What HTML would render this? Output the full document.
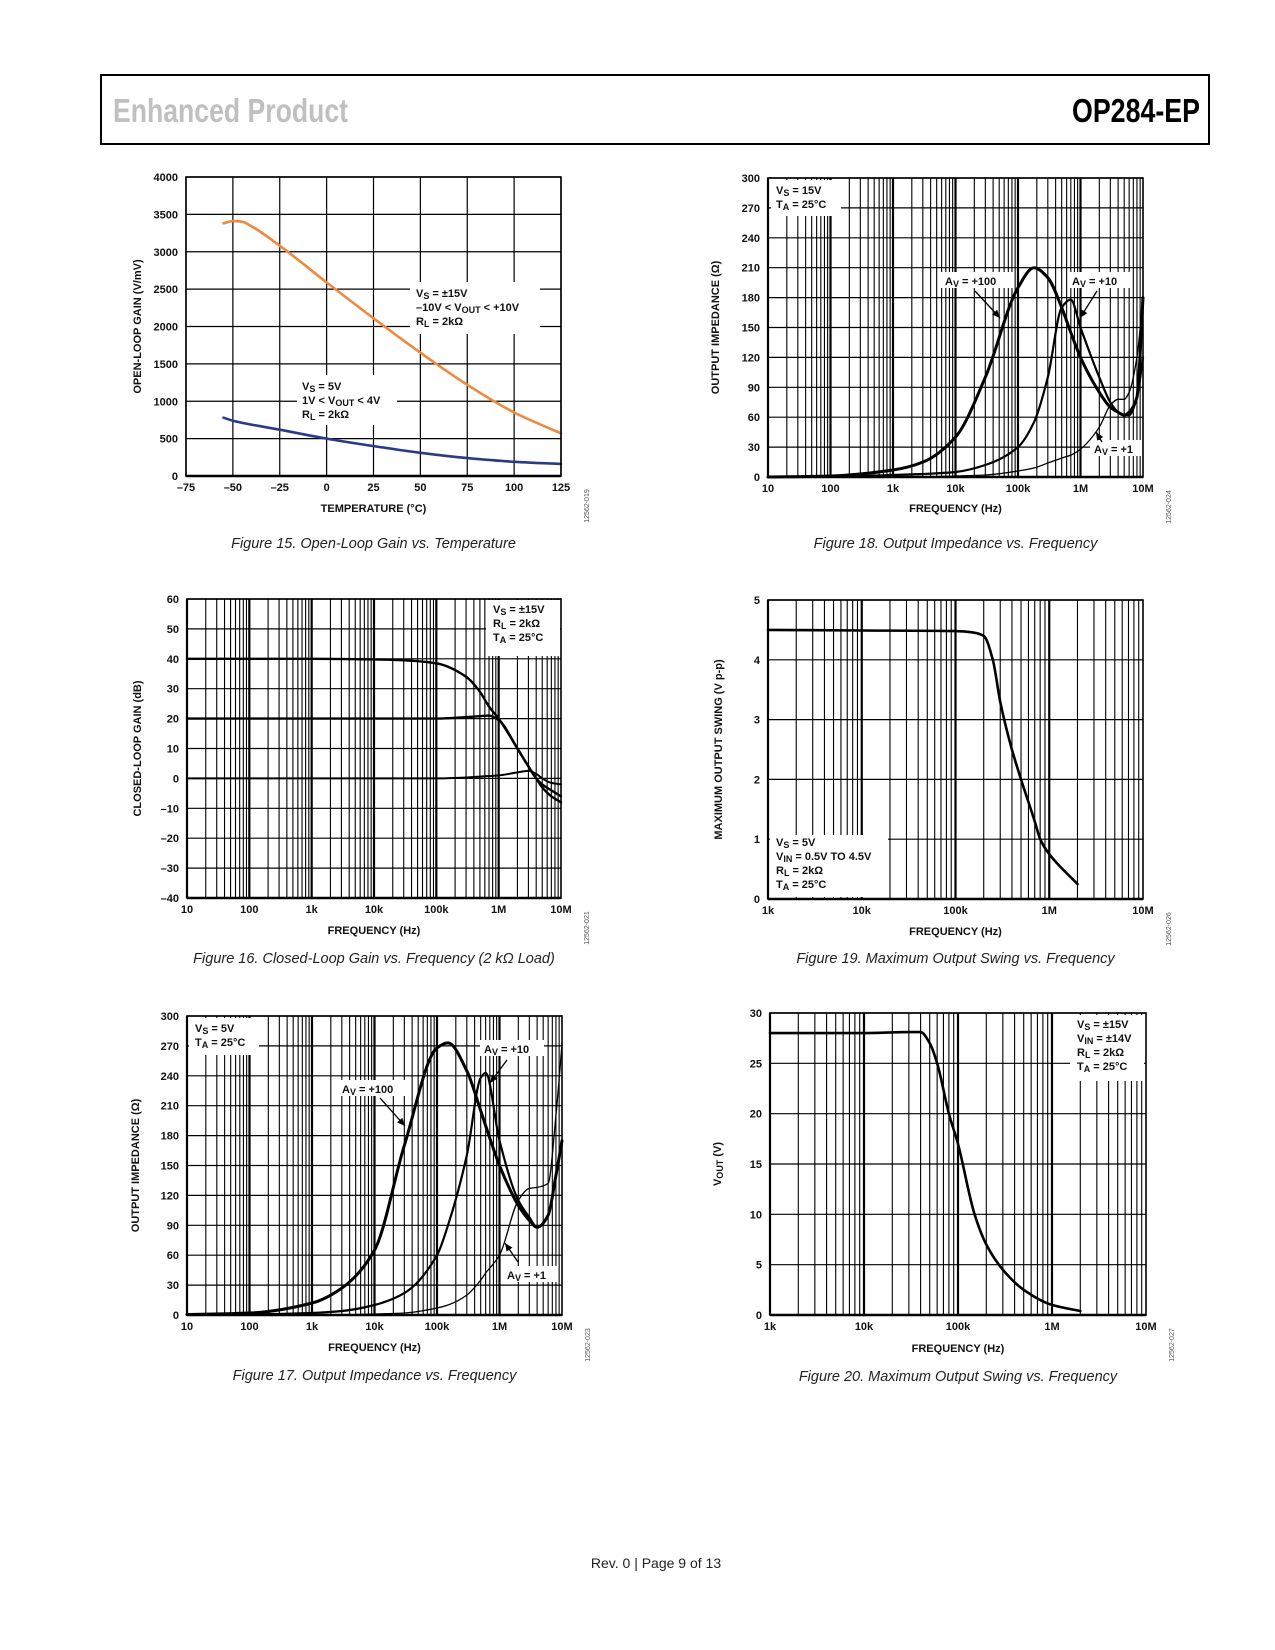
<!DOCTYPE html>
<html><head><meta charset="utf-8"><style>
body{margin:0;background:#fff;}
svg{display:block;font-family:"Liberation Sans",sans-serif;}
.t{font-size:11px;font-weight:bold;fill:#111;}
.cap{font-size:14.5px;font-style:italic;fill:#222;}
</style></head><body>
<svg id="pg" width="1275" height="1650" viewBox="0 0 1275 1650">
<rect x="101" y="75" width="1108" height="69" fill="none" stroke="#000" stroke-width="2"/>
<text x="113" y="122" textLength="235" lengthAdjust="spacingAndGlyphs" style="font-size:33px;font-weight:bold;fill:#c0c0c0">Enhanced Product</text>
<text x="1072" y="122" textLength="128" lengthAdjust="spacingAndGlyphs" style="font-size:33px;font-weight:bold;fill:#000">OP284-EP</text>
<text x="656" y="1568" text-anchor="middle" style="font-size:14px;fill:#222">Rev. 0 | Page 9 of 13</text>
</svg>
<script>
// ---- Fig 15 data ----
const f15Temp=[-55,-50,-45,-40,-25,0,25,50,75,100,125];
const f15Hi=[3380,3410,3400,3340,3080,2590,2110,1650,1220,850,570];
const f15LoTemp=[-55,-50,-25,0,25,50,75,100,125];
const f15Lo=[780,740,620,500,400,310,240,190,160];
const f15XTicks=[-75,-50,-25,0,25,50,75,100,125];
const f15XLabels=["–75","–50","–25","0","25","50","75","100","125"];
const f15YTicks=[0,500,1000,1500,2000,2500,3000,3500,4000];
// ---- Fig 16 data ----
const f16Freq=[10,1e3,1e4,3e4,1e5,3e5,5e5,7e5,1e6,2e6,3e6,4e6,5e6,7e6,1e7];
const f16G40=[40,40,39.8,39.5,38.5,34,29,24,20,10,4,0,-3,-6,-8];
const f16G20=[20,20,20,20,20,20.5,20.8,21,19.5,10,4,0,-2,-4,-6];
const f16G0=[0,0,0,0,0,0.3,0.6,0.8,1,2,2.5,1.5,0,-1.5,-2];
const f16YTicks=[-40,-30,-20,-10,0,10,20,30,40,50,60];
const f16YLabels=["–40","–30","–20","–10","0","10","20","30","40","50","60"];
const logLabels6=["10","100","1k","10k","100k","1M","10M"];
const logTicks6=[10,100,1e3,1e4,1e5,1e6,1e7];
// ---- Fig 17 data ----
const f17Freq=[10,100,1e3,3e3,1e4,3e4,1e5,1.5e5,3e5,5e5,6e5,1e6,2e6,3e6,4e6,6e6,8e6,1e7];
const f17A100=[0.5,2,12,27,65,170,268,273,245,205,190,150,110,95,88,100,140,175];
const f17A10=[0,0.5,2,4,10,22,60,90,160,238,243,175,115,98,88,100,140,175];
const f17A1=[0,0,0,0,1,2,7,10,20,35,42,60,115,127,128,132,200,272];
const zTicks=[0,30,60,90,120,150,180,210,240,270,300];
// ---- Fig 18 data ----
const f18Freq=[10,100,1e3,3e3,1e4,3e4,1e5,1.8e5,3e5,5e5,7e5,1e6,2e6,3e6,4e6,5e6,6e6,8e6,1e7];
const f18A100=[0,1,7,15,40,100,190,210,200,170,145,120,85,70,65,62,65,80,180];
const f18A10=[0,0.5,2,3,5,12,30,55,100,170,178,150,100,75,65,62,62,80,120];
const f18A1=[0,0,0,0,1,2,6,9,14,19,22,28,50,72,78,78,85,120,180];
// ---- Fig 19 data ----
const f19Freq=[1e3,1e4,1e5,1.5e5,2e5,2.5e5,3e5,4e5,5e5,7e5,8e5,1e6,2e6];
const f19V=[4.5,4.49,4.48,4.46,4.4,4.0,3.3,2.5,2.0,1.3,1.0,0.75,0.25];
const f19YTicks=[0,1,2,3,4,5];
const logTicks4=[1e3,1e4,1e5,1e6,1e7];
const logLabels4=["1k","10k","100k","1M","10M"];
// ---- Fig 20 data ----
const f20Freq=[1e3,1e4,3e4,4e4,5e4,6e4,8e4,1e5,1.5e5,2e5,3e5,5e5,1e6,2e6];
const f20V=[28,28,28.1,28.1,27,25,20,17,10,7,4.5,2.5,1,0.4];
const f20YTicks=[0,5,10,15,20,25,30];

const NS="http://www.w3.org/2000/svg";
const pg=document.getElementById('pg');
function mk(tag,attrs,parent){const e=document.createElementNS(NS,tag);for(const k in attrs)e.setAttribute(k,attrs[k]);(parent||pg).appendChild(e);return e;}
function axis(c){
  if(c.log){const a=Math.log10(c.xmin),b=Math.log10(c.xmax);c.x=v=>c.L+(Math.log10(v)-a)/(b-a)*(c.R-c.L);}
  else c.x=v=>c.L+(v-c.xmin)/(c.xmax-c.xmin)*(c.R-c.L);
  c.y=v=>c.B-(v-c.ymin)/(c.ymax-c.ymin)*(c.B-c.T);
  return c;
}
function drawGrid(c,g){
  if(c.log){
    for(let d=c.xmin;d<c.xmax;d*=10){for(let m=1;m<10;m++){const v=d*m;const X=c.x(v);
      const ln=mk('line',{x1:X,x2:X,y1:c.T,y2:c.B,stroke:'#000','stroke-width':m==1?2.2:1.1},g);
      }}
  } else {
    c.xt.forEach(v=>{const X=c.x(v);const ln=mk('line',{x1:X,x2:X,y1:c.T,y2:c.B,stroke:'#000','stroke-width':1.2},g);
      });
  }
  c.yt.forEach(v=>{const Y=c.y(v);const ln=mk('line',{x1:c.L,x2:c.R,y1:Y,y2:Y,stroke:'#000','stroke-width':1.2},g);
    });
}
function drawFrame(c,g){
  const r=mk('rect',{x:c.L,y:c.T,width:c.R-c.L,height:c.B-c.T,fill:'none',stroke:'#000','stroke-width':1.6},g);
  
  mk('line',{x1:c.L,x2:c.R,y1:c.B,y2:c.B,stroke:'#000','stroke-width':2.5},g);
  c.xt.forEach((v,i)=>{const t=mk('text',{x:c.x(v),y:c.B+15,'text-anchor':'middle',class:'t'},g);t.textContent=c.xl[i];
    });
  c.yt.forEach((v,i)=>{const t=mk('text',{x:c.L-8,y:c.y(v)+4,'text-anchor':'end',class:'t'},g);t.textContent=c.yl?c.yl[i]:String(v);
    });
  const xt=mk('text',{x:(c.L+c.R)/2,y:c.xtY,'text-anchor':'middle',class:'t'},g);xt.textContent=c.xtitle;
  
  const yt=mk('text',{x:0,y:0,'text-anchor':'middle',class:'t',transform:`translate(${c.ytX},${(c.T+c.B)/2}) rotate(-90)`},g);
  richText(yt,c.ytitle);
  
  const cp=mk('text',{x:(c.L+c.R)/2,y:c.capY,'text-anchor':'middle',class:'cap'},g);cp.textContent=c.cap;
  
  const id=mk('text',{x:0,y:0,'text-anchor':'middle',transform:`translate(${c.R+28},${c.B+30}) rotate(-90)`,style:'font-size:7px;fill:#555'},g);id.textContent=c.id;
  
}
function richText(t,s){
  const parts=s.split(/(\{[^}]*\})/);
  parts.forEach(p=>{if(!p)return;const sp=document.createElementNS(NS,'tspan');
    if(p[0]=='{'){sp.textContent=p.slice(1,-1);sp.setAttribute('baseline-shift','-25%');sp.setAttribute('font-size','9px');}
    else sp.textContent=p; t.appendChild(sp);});
}
function legend(g,bx,by,bw,bh,tx,ty,lines,name){
  const r=mk('rect',{x:bx,y:by,width:bw,height:bh,fill:'#fff'},g);
  
  lines.forEach((s,i)=>{const t=mk('text',{x:tx,y:ty+i*14,class:'t'},g);richText(t,s);
    });
}
function arrow(g,x1,y1,x2,y2){
  const l=mk('line',{x1,y1,x2,y2,stroke:'#000','stroke-width':1.3},g);
  
  const a=Math.atan2(y2-y1,x2-x1),s=8,w=3.5;
  const p=[[x2,y2],[x2-s*Math.cos(a)+w*Math.sin(a),y2-s*Math.sin(a)-w*Math.cos(a)],[x2-s*Math.cos(a)-w*Math.sin(a),y2-s*Math.sin(a)+w*Math.cos(a)]];
  const h=mk('polygon',{points:p.map(q=>q.join(',')).join(' '),fill:'#000'},g);
  
}
// monotone cubic (Fritsch-Carlson) in pixel space, densely sampled
function curve(c,g,xs,ys,stroke,w,name){
  const X=xs.map(v=>c.x(v)),Y=ys.map(v=>c.y(v)),n=X.length;
  const dl=[],m=[];
  for(let i=0;i<n-1;i++)dl.push((Y[i+1]-Y[i])/(X[i+1]-X[i]));
  m[0]=dl[0];m[n-1]=dl[n-2];
  for(let i=1;i<n-1;i++){ if(dl[i-1]*dl[i]<=0)m[i]=0; else {const w1=2*(X[i+1]-X[i])+(X[i]-X[i-1]),w2=(X[i+1]-X[i])+2*(X[i]-X[i-1]);m[i]=(w1+w2)/(w1/dl[i-1]+w2/dl[i]);} }
  let d=`M${X[0].toFixed(1)},${Y[0].toFixed(1)}`;
  for(let i=0;i<n-1;i++){const h=X[i+1]-X[i];
    d+=` C${(X[i]+h/3).toFixed(1)},${(Y[i]+m[i]*h/3).toFixed(1)} ${(X[i+1]-h/3).toFixed(1)},${(Y[i+1]-m[i+1]*h/3).toFixed(1)} ${X[i+1].toFixed(1)},${Y[i+1].toFixed(1)}`;}
  const p=mk('path',{d,fill:'none',stroke,'stroke-width':w,'stroke-linejoin':'round','stroke-linecap':'round'},g);
  
}
function chart(name){const g=mk('g',{});return g;}

// Fig 15
{const g=chart('figure-15-chart');
 const c=axis({L:186,R:561,T:177,B:476,log:false,xmin:-75,xmax:125,ymin:0,ymax:4000,xt:f15XTicks,xl:f15XLabels,yt:f15YTicks,
  xtitle:'TEMPERATURE (°C)',xtY:512,ytitle:'OPEN-LOOP GAIN (V/mV)',ytX:141,cap:'Figure 15. Open-Loop Gain vs. Temperature',capY:548,id:'12562-019'});
 drawGrid(c,g);
 legend(g,410,282,130,52,416,297,['V{S} = ±15V','–10V < V{OUT} < +10V','R{L} = 2kΩ'],'legend-15v');
 legend(g,297,375,100,50,302,390,['V{S} = 5V','1V < V{OUT} < 4V','R{L} = 2kΩ'],'legend-5v');
 curve(c,g,f15Temp,f15Hi,'#f0883e',2.6,'series-15v');
 curve(c,g,f15LoTemp,f15Lo,'#2a3b85',2.6,'series-5v');
 drawFrame(c,g);}
// Fig 18
{const g=chart('figure-18-chart');
 const c=axis({L:768,R:1143,T:178,B:477,log:true,xmin:10,xmax:1e7,ymin:0,ymax:300,xt:logTicks6,xl:logLabels6,yt:zTicks,
  xtitle:'FREQUENCY (Hz)',xtY:512,ytitle:'OUTPUT IMPEDANCE (Ω)',ytX:719,cap:'Figure 18. Output Impedance vs. Frequency',capY:548,id:'12562-024'});
 drawGrid(c,g);
 legend(g,771,180,70,36,776,194,['V{S} = 15V','T{A} = 25°C'],'legend-conditions');
 legend(g,941,272,72,16,945,285,['A{V} = +100'],'label-av100');
 legend(g,1068,272,64,16,1072,285,['A{V} = +10'],'label-av10');
 legend(g,1090,440,53,16,1094,453,['A{V} = +1'],'label-av1');
 curve(c,g,f18Freq,f18A100,'#000',3,'series-av100');
 curve(c,g,f18Freq,f18A10,'#000',2.2,'series-av10');
 curve(c,g,f18Freq,f18A1,'#000',1.3,'series-av1');
 arrow(g,975,291,1000,318);arrow(g,1097,291,1080,318);arrow(g,1102,442,1096,432);
 drawFrame(c,g);}
// Fig 16
{const g=chart('figure-16-chart');
 const c=axis({L:187,R:561,T:599,B:898,log:true,xmin:10,xmax:1e7,ymin:-40,ymax:60,xt:logTicks6,xl:logLabels6,yt:f16YTicks,yl:f16YLabels,
  xtitle:'FREQUENCY (Hz)',xtY:934,ytitle:'CLOSED-LOOP GAIN (dB)',ytX:141,cap:'Figure 16. Closed-Loop Gain vs. Frequency (2 kΩ Load)',capY:963,id:'12562-021'});
 drawGrid(c,g);
 legend(g,486,600,74,56,493,613,['V{S} = ±15V','R{L} = 2kΩ','T{A} = 25°C'],'legend-conditions');
 curve(c,g,f16Freq,f16G40,'#000',2.4,'series-gain-40db');
 curve(c,g,f16Freq,f16G20,'#000',2.4,'series-gain-20db');
 curve(c,g,f16Freq,f16G0,'#000',2,'series-gain-0db');
 drawFrame(c,g);}
// Fig 19
{const g=chart('figure-19-chart');
 const c=axis({L:768,R:1143,T:600,B:899,log:true,xmin:1e3,xmax:1e7,ymin:0,ymax:5,xt:logTicks4,xl:logLabels4,yt:f19YTicks,
  xtitle:'FREQUENCY (Hz)',xtY:935,ytitle:'MAXIMUM OUTPUT SWING (V p-p)',ytX:722,cap:'Figure 19. Maximum Output Swing vs. Frequency',capY:963,id:'12562-026'});
 drawGrid(c,g);
 legend(g,770,835,118,62,776,846,['V{S} = 5V','V{IN} = 0.5V TO 4.5V','R{L} = 2kΩ','T{A} = 25°C'],'legend-conditions');
 curve(c,g,f19Freq,f19V,'#000',2.6,'series-swing');
 drawFrame(c,g);}
// Fig 17
{const g=chart('figure-17-chart');
 const c=axis({L:187,R:562,T:1016,B:1315,log:true,xmin:10,xmax:1e7,ymin:0,ymax:300,xt:logTicks6,xl:logLabels6,yt:zTicks,
  xtitle:'FREQUENCY (Hz)',xtY:1351,ytitle:'OUTPUT IMPEDANCE (Ω)',ytX:139,cap:'Figure 17. Output Impedance vs. Frequency',capY:1380,id:'12562-023'});
 drawGrid(c,g);
 legend(g,189,1018,70,37,195,1032,['V{S} = 5V','T{A} = 25°C'],'legend-conditions');
 legend(g,338,1080,72,16,342,1093,['A{V} = +100'],'label-av100');
 legend(g,480,1040,64,16,484,1053,['A{V} = +10'],'label-av10');
 legend(g,503,1266,54,16,507,1279,['A{V} = +1'],'label-av1');
 curve(c,g,f17Freq,f17A100,'#000',3,'series-av100');
 curve(c,g,f17Freq,f17A10,'#000',2.2,'series-av10');
 curve(c,g,f17Freq,f17A1,'#000',1.3,'series-av1');
 arrow(g,380,1098,405,1126);arrow(g,507,1060,490,1083);arrow(g,518,1262,505,1243);
 drawFrame(c,g);}
// Fig 20
{const g=chart('figure-20-chart');
 const c=axis({L:770,R:1146,T:1013,B:1315,log:true,xmin:1e3,xmax:1e7,ymin:0,ymax:30,xt:logTicks4,xl:logLabels4,yt:f20YTicks,
  xtitle:'FREQUENCY (Hz)',xtY:1352,ytitle:'V{OUT} (V)',ytX:721,cap:'Figure 20. Maximum Output Swing vs. Frequency',capY:1381,id:'12562-027'});
 drawGrid(c,g);
 legend(g,1070,1015,74,66,1077,1028,['V{S} = ±15V','V{IN} = ±14V','R{L} = 2kΩ','T{A} = 25°C'],'legend-conditions');
 curve(c,g,f20Freq,f20V,'#000',2.6,'series-vout');
 drawFrame(c,g);}
</script>
</body></html>
